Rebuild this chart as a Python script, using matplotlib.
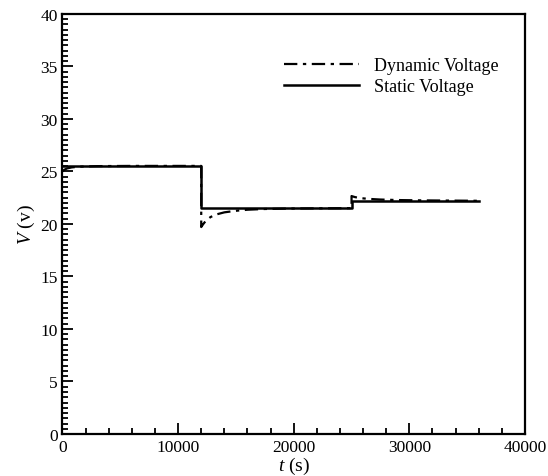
import matplotlib
matplotlib.use("Agg")
import matplotlib.pyplot as plt
from matplotlib.ticker import MultipleLocator

# Static voltage (step profile)
t_static = [0, 12000, 12000, 25000, 25000, 36000]
v_static = [25.55, 25.55, 21.5, 21.5, 22.2, 22.2]

# Dynamic voltage (sampled)
t_dynamic = [0, 150, 400, 800, 1500, 3000, 6000, 12000,
             12000, 12150, 12400, 12800, 13300, 14000, 15000, 16000, 17500, 19500, 22000, 25000,
             25000, 25300, 25800, 26500, 27500, 29000, 31000, 33500, 36000]
v_dynamic = [25.0, 25.15, 25.28, 25.38, 25.45, 25.5, 25.52, 25.52,
             19.7, 19.95, 20.3, 20.65, 20.9, 21.1, 21.25, 21.35, 21.42, 21.46, 21.48, 21.5,
             22.65, 22.55, 22.45, 22.38, 22.32, 22.27, 22.24, 22.22, 22.2]

xticks = [0, 10000, 20000, 30000, 40000]
yticks = [0, 5, 10, 15, 20, 25, 30, 35, 40]

plt.rcParams['font.family'] = ['Liberation Serif', 'DejaVu Serif']
plt.rcParams['mathtext.fontset'] = 'custom'
plt.rcParams['mathtext.it'] = 'Liberation Serif:italic'
plt.rcParams['mathtext.rm'] = 'Liberation Serif'

fig = plt.figure(figsize=(5.48, 4.77), dpi=100)
ax = fig.add_axes([0.114, 0.088, 0.844, 0.881])

ax.plot(t_dynamic, v_dynamic, color='black', lw=1.6, linestyle=(0, (6, 2.5, 1.5, 2.5)),
        label='Dynamic Voltage')
ax.plot(t_static, v_static, color='black', lw=1.8, label='Static Voltage')

ax.set_xlim(0, 40000)
ax.set_ylim(0, 40)
ax.set_xticks(xticks)
ax.set_yticks(yticks)
ax.xaxis.set_minor_locator(MultipleLocator(2000))
ax.yaxis.set_minor_locator(MultipleLocator(0.5))

ax.tick_params(which='both', direction='in', top=False, right=False, labelsize=12.5, width=1.3)
ax.tick_params(which='major', length=8)
ax.tick_params(which='minor', length=4)
for s in ax.spines.values():
    s.set_linewidth(1.6)

ax.set_xlabel(r'$t$ (s)', fontsize=14, labelpad=0)
ax.set_ylabel(r'$V$ (v)', fontsize=14, labelpad=2)

leg = ax.legend(loc='upper right', bbox_to_anchor=(0.978, 0.935), frameon=False, fontsize=13,
                handlelength=4.2, handletextpad=0.8, labelspacing=0.2)

fig.savefig('out.png', dpi=100)
